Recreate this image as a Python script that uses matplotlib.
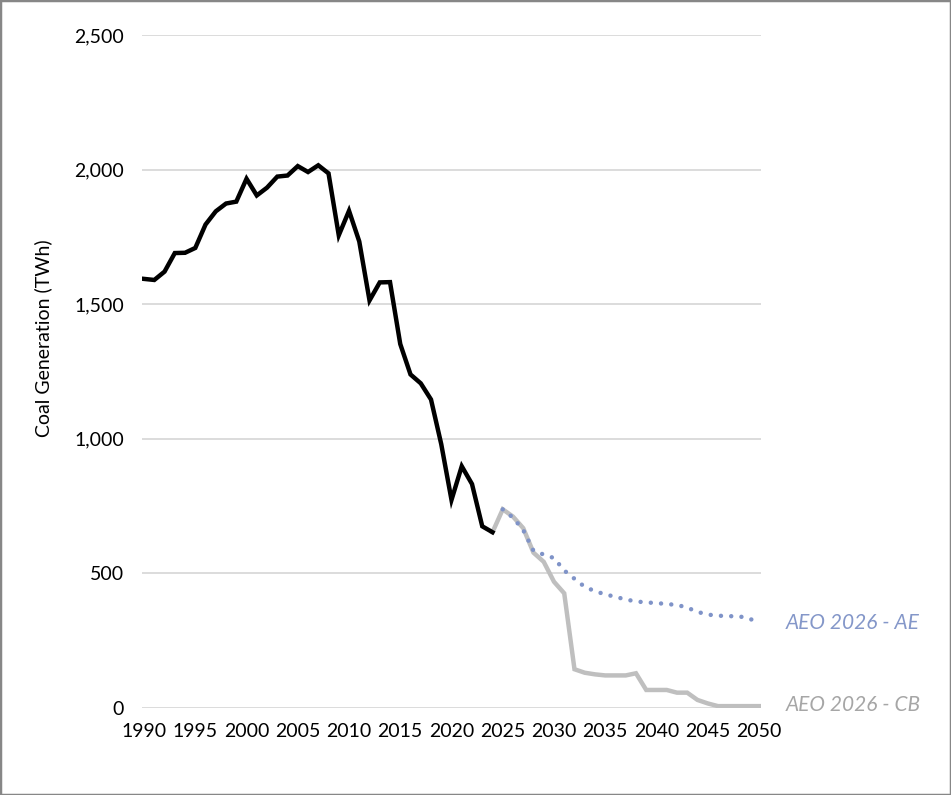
import matplotlib
matplotlib.use("Agg")
import matplotlib.pyplot as plt
from matplotlib.patches import Rectangle
from matplotlib.ticker import FuncFormatter

plt.rcParams['font.family'] = ['Lato', 'DejaVu Sans']

hist_years = list(range(1990, 2025))
hist_values = [1594, 1590, 1621, 1690, 1691, 1709, 1796, 1845, 1874, 1881,
               1966, 1904, 1933, 1974, 1978, 2013, 1991, 2016, 1986, 1756,
               1847, 1733, 1514, 1581, 1582, 1352, 1239, 1206, 1146, 980,
               773, 898, 832, 675, 653]

proj_years = list(range(2024, 2051))
cb_values = [653, 738, 711, 668, 577, 543, 469, 426, 144, 131,
             125, 121, 121, 121, 129, 67, 67, 67, 57, 57,
             30, 17, 7, 7, 7, 7, 7]
ae_years = list(range(2025, 2051))
ae_values = [738, 707, 661, 584, 570, 557, 511, 480, 450, 434,
             422, 413, 403, 396, 392, 390, 386, 383, 373, 357,
             347, 343, 341, 341, 333, 317]

labels = ["AEO 2026 - AE", "AEO 2026 - CB"]
x_ticks = list(range(1990, 2051, 5))
y_ticks = [0, 500, 1000, 1500, 2000, 2500]

fig = plt.figure(figsize=(9.51, 7.95), dpi=100)
ax = fig.add_axes([142/951, 1-708/795, (761-142)/951, (708-35)/795])

for y in y_ticks:
    ax.axhline(y, color='#D9D9D9', lw=1.3, zorder=0)

ax.plot(hist_years, hist_values, color='black', lw=3.2, solid_joinstyle='miter', zorder=3)
ax.plot(proj_years, cb_values, color='#BFBFBF', lw=3.2, solid_joinstyle='miter', zorder=2)
ax.plot(ae_years, ae_values, color='#7F93C8', lw=3.2, linestyle=(0, (0.01, 2.3)),
        dash_capstyle='round', zorder=4)

ax.annotate(labels[0], xy=(2050, ae_values[-1]), xytext=(19, 0), textcoords='offset points',
            ha='left', va='center', fontsize=15, style='italic', color='#8497C9',
            annotation_clip=False)
ax.annotate(labels[1], xy=(2050, cb_values[-1]), xytext=(19, 1), textcoords='offset points',
            ha='left', va='center', fontsize=15, style='italic', color='#A6A6A6',
            annotation_clip=False)

ax.set_xlim(1989.8, 2050.2)
ax.set_ylim(0, 2500)
ax.set_xticks(x_ticks)
ax.set_yticks(y_ticks)
ax.yaxis.set_major_formatter(FuncFormatter(lambda v, p: f"{int(v):,}"))
ax.tick_params(axis='both', length=0, labelsize=14, colors='black')
ax.tick_params(axis='y', pad=13)
ax.tick_params(axis='x', pad=11)
for s in ax.spines.values():
    s.set_visible(False)
ax.set_ylabel("Coal Generation (TWh)", fontsize=14)
ax.yaxis.set_label_coords(-(142-52)/619, 0.55)

fig.patches.append(Rectangle((0, 0), 1, 1, transform=fig.transFigure, fill=False,
                             edgecolor='#878787', lw=2.5))

fig.savefig("out.png", dpi=100)
